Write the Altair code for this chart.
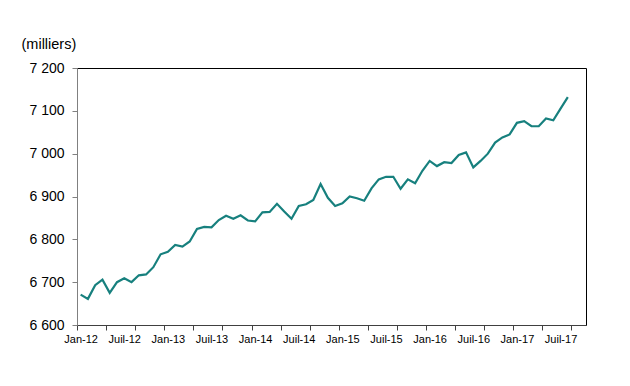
import altair as alt
import pandas as pd

months_fr = ["Jan", "Fév", "Mar", "Avr", "Mai", "Juin", "Juil", "Août", "Sep", "Oct", "Nov", "Déc"]
years = ["12", "13", "14", "15", "16", "17"]

values_2012 = [6671, 6661, 6693, 6706, 6675, 6700, 6709, 6700, 6716, 6718, 6735, 6765]
values_2013 = [6771, 6787, 6783, 6795, 6824, 6829, 6828, 6845, 6855, 6848, 6856, 6844]
values_2014 = [6842, 6863, 6864, 6883, 6865, 6848, 6878, 6882, 6892, 6929, 6897, 6878]
values_2015 = [6884, 6900, 6896, 6890, 6919, 6940, 6946, 6946, 6918, 6940, 6931, 6960]
values_2016 = [6983, 6971, 6980, 6978, 6997, 7003, 6968, 6983, 7000, 7026, 7038, 7045]
values_2017 = [7072, 7076, 7064, 7064, 7082, 7078, 7105, 7132]

tick_labels = ["Jan-12", "Juil-12", "Jan-13", "Juil-13", "Jan-14", "Juil-14",
               "Jan-15", "Juil-15", "Jan-16", "Juil-16", "Jan-17", "Juil-17"]
y_ticks = [6600, 6700, 6800, 6900, 7000, 7100, 7200]

all_values = values_2012 + values_2013 + values_2014 + values_2015 + values_2016 + values_2017
labels = []
for y in years:
    for m in months_fr:
        labels.append(f"{m}-{y}")
labels = labels[:len(all_values)]

df = pd.DataFrame({"idx": list(range(len(all_values))), "mois": labels, "emploi": all_values})

n_cats = 70
tick_vals = [-0.5 + 4 * k for k in range(18)]
label_vals = [6 * k for k in range(len(tick_labels))]
axis_vals = sorted(tick_vals + label_vals)
arr = "[" + ",".join(f"'{t}'" for t in tick_labels) + "]"

font = "Liberation Sans"

line = alt.Chart(df).mark_line(color="#17807e", strokeWidth=2.2).encode(
    x=alt.X(
        "idx:Q",
        scale=alt.Scale(domain=[-0.5, n_cats - 0.5], nice=False, zero=False),
        axis=alt.Axis(
            values=axis_vals,
            labelExpr=f"(datum.value % 1 === 0) ? {arr}[datum.value / 6] : ''",
            tickOpacity={"condition": {"test": "datum.value % 1 === 0", "value": 0}, "value": 1},
            tickSize=5,
            tickColor="#404040",
            domainColor="#404040",
            labelFont=font,
            labelFontSize=11,
            labelColor="#000000",
            labelPadding=3,
            labelOverlap=False,
            grid=False,
            title=None,
        ),
    ),
    y=alt.Y(
        "emploi:Q",
        scale=alt.Scale(domain=[6600, 7200], nice=False, zero=False),
        axis=alt.Axis(
            values=y_ticks,
            labelExpr="replace(format(datum.value, ','), ',', ' ')",
            tickSize=5,
            tickColor="#808080",
            domainColor="#808080",
            labelFont=font,
            labelFontSize=14,
            labelColor="#000000",
            labelPadding=8,
            grid=False,
            title="(milliers)",
            titleAngle=0,
            titleFont=font,
            titleFontSize=14.5,
            titleFontWeight="normal",
            titleColor="#000000",
            titleAlign="left",
            titleBaseline="alphabetic",
            titleX=-56,
            titleY=-20,
        ),
    ),
    tooltip=["mois:N", "emploi:Q"],
)

chart = line.properties(
    width=509,
    height=257,
    autosize=alt.AutoSizeParams(type="none"),
    padding={"left": 69, "top": 60, "right": 36, "bottom": 53},
    background="white",
).configure_view(stroke="#000000", strokeWidth=1)

chart.save("out.html", embed_options={"renderer": "svg", "actions": False})
